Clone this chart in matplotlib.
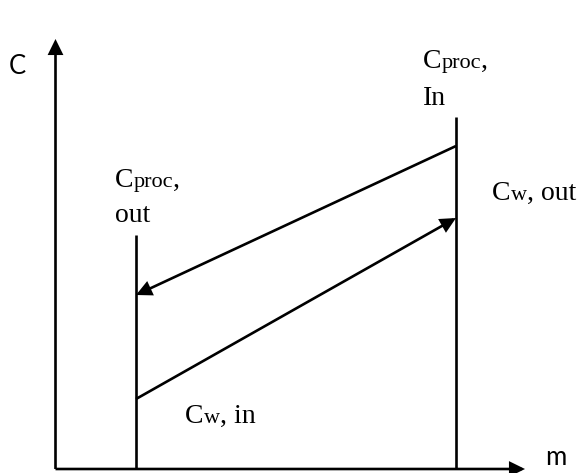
import matplotlib
matplotlib.use("Agg")
import matplotlib.pyplot as plt
from matplotlib.patches import FancyArrowPatch

# ---- data (schematic units, origin at axis crossing) ----
axis_x_end = 469.5
axis_y_end = 430.0
m_out = 80.5          # position of the Cproc,out vertical line
m_in = 400.5          # position of the Cproc,In vertical line
line_out_top = 234.0
line_in_top = 352.0
proc_line = [(m_in, 323.0), (m_out, 174.0)]   # Cproc In -> Cproc out
water_line = [(m_out, 70.0), (m_in, 251.0)]   # Cw in -> Cw out

SERIF = ['Liberation Serif', 'DejaVu Serif']
SANS = ['Lato', 'DejaVu Sans']
F_BIG = 20
F_SMALL = 16

fig = plt.figure(figsize=(5.81, 4.73), dpi=100)
ax = fig.add_axes([0, 0, 1, 1])
ax.set_xlim(-55.5, 525.5)
ax.set_ylim(-4, 469)
ax.axis('off')

LW = 1.9
head = "-|>,head_length=0.65,head_width=0.32"

def arrow(p0, p1):
    a = FancyArrowPatch(p0, p1, arrowstyle=head, mutation_scale=13,
                        lw=LW, color='black', shrinkA=0, shrinkB=0,
                        joinstyle='miter', capstyle='butt')
    ax.add_patch(a)

# axes arrows
arrow((0, 0), (axis_x_end, 0))
arrow((0, 0), (0, axis_y_end))

# vertical lines
ax.plot([m_out, m_out], [0, line_out_top], color='black', lw=LW, solid_capstyle='butt')
ax.plot([m_in, m_in], [0, line_in_top], color='black', lw=LW, solid_capstyle='butt')

# operating lines
arrow(proc_line[0], proc_line[1])
arrow(water_line[0], water_line[1])

renderer = fig.canvas.get_renderer()

def mixed(x, y, parts):
    """parts: list of (text, size)"""
    off = 0.0
    for txt, size in parts:
        t = ax.annotate(txt, xy=(x, y), xytext=(off, 0), textcoords='offset points',
                        fontsize=size, family=SERIF, ha='left', va='baseline')
        w = t.get_window_extent(renderer=renderer).width
        off += w * 72.0 / fig.dpi

mixed(367.5, 401, [("C", F_BIG), ("proc", F_SMALL), (",", F_BIG)])
mixed(367.5, 364, [("In", F_BIG)])
mixed(59.5, 282, [("C", F_BIG), ("proc", F_SMALL), (",", F_BIG)])
mixed(59.5, 247, [("out", F_BIG)])
mixed(436.5, 269, [("C", F_BIG), ("w", F_SMALL), (", out", F_BIG)])
mixed(129.5, 46, [("C", F_BIG), ("w", F_SMALL), (", in", F_BIG)])

ax.text(-47, 402, "C", fontsize=18.5, family=SANS, ha='left', va='center')
ax.text(489.5, 4, "m", fontsize=18.5, family=SANS, ha='left', va='baseline')

fig.savefig("out.png", dpi=100)
